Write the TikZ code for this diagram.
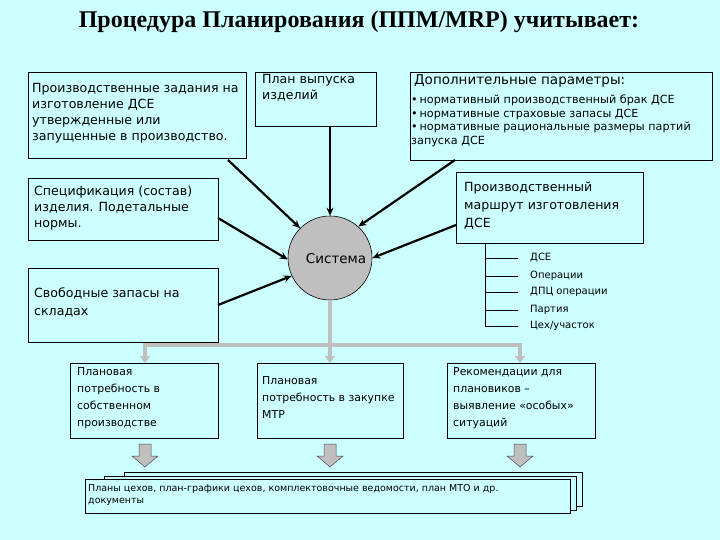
\documentclass[tikz,border=0pt]{standalone}
\usepackage{fontspec}
\setmainfont{DejaVu Sans}
\newfontfamily\titlefont{Liberation Serif}
\usetikzlibrary{arrows.meta}
\definecolor{bg}{HTML}{CCFFFF}
\definecolor{gr}{HTML}{BFBFBF}
\begin{document}
\begin{tikzpicture}[x=1pt,y=-1pt,
 bx/.style={draw=black,fill=bg,line width=0.6pt},
 tx/.style={anchor=north west,align=left,font=\fontsize{12.6}{16}\selectfont,inner sep=0pt},
 sm/.style={anchor=north west,align=left,font=\fontsize{11.2}{13.5}\selectfont,inner sep=0pt},
 ar/.style={-{Stealth[length=8pt,width=7pt]},line width=2.2pt},
 ga/.style={-{Triangle[length=7pt,width=10pt]},draw=gr,line width=3.5pt},
 blk/.style={draw=black!70,fill=gr,line width=0.5pt}]
\fill[bg] (0,0) rectangle (720,540);
\useasboundingbox (0,0) rectangle (720,540);
\node[font=\titlefont\bfseries\fontsize{24}{26}\selectfont] (title) at (359,22) {Процедура Планирования (ППМ/MRP) учитывает:};
\draw[bx] (28,72) rectangle (246,158); \coordinate (b1) at (228,160);
\node[tx] (t1) at (32,83) {Производственные задания на\\изготовление ДСЕ\\утвержденные или\\запущенные в производство.};
\draw[bx] (255,72) rectangle (376,126); \coordinate (b2) at (330,126);
\node[tx] (t2) at (262,74) {План выпуска\\изделий};
\draw[bx] (410,72) rectangle (712,160); \coordinate (b3) at (455,160);
\node[tx,font=\fontsize{13.5}{15}\selectfont] (t3) at (414,74) {Дополнительные параметры:};
\node[sm] (t3b) at (411,95) {\textbullet\,нормативный производственный брак ДСЕ\\\textbullet\,нормативные страховые запасы ДСЕ\\\textbullet\,нормативные рациональные размеры партий\\запуска ДСЕ};
\draw[bx] (28,178) rectangle (218,240); \coordinate (b4) at (218,218);
\node[tx] (t4) at (34,186) {Спецификация (состав)\\изделия. Подетальные\\нормы.};
\draw[bx] (456,172) rectangle (643,243); \coordinate (b5) at (456,225);
\node[tx,font=\fontsize{12.6}{18}\selectfont] (t5) at (464,182) {Производственный\\маршрут изготовления\\ДСЕ};
\draw[bx] (28,268) rectangle (218,342); \coordinate (b6) at (218,305);
\node[tx,font=\fontsize{12.6}{18}\selectfont] (t6) at (34,288) {Свободные запасы на\\складах};
\node[circle,draw=black,fill=gr,minimum size=84pt,inner sep=0pt,line width=0.6pt] (sys) at (330,258) {};
\node[font=\fontsize{13.5}{14}\selectfont] (syst) at (336,259) {Система};
\draw[ar] (b1) -- (sys.135);
\draw[ar] (b2) -- (sys.north);
\draw[ar] (b3) -- (sys.48);
\draw[ar] (b4) -- (sys.182);
\draw[ar] (b5) -- (sys.0);
\draw[ar] (b6) -- (sys.205);
% list
\coordinate (lv1) at (485,243); \coordinate (lv2) at (485,326);
\draw (lv1) -- (lv2);
\foreach \y/\t in {258/{ДСЕ},276/{Операции},292/{ДПЦ операции},310/{Партия},326/{Цех/участок}}{
 \draw (485,\y) -- (518,\y);
 \node[anchor=west,font=\fontsize{10}{11}\selectfont,inner sep=0pt] at (530,\y) {\t};}
% gray distribution
\coordinate (j) at (330,345); \coordinate (jl) at (145,345); \coordinate (jr) at (520,345);
\draw[draw=gr,line width=3.5pt] (sys.south) -- (j);
\draw[draw=gr,line width=3.5pt] (143.25,345) -- (521.75,345);
\draw[ga] (jl) -- (145,363);
\draw[ga] (j) -- (330,363);
\draw[ga] (jr) -- (520,363);
\draw[bx] (70,363) rectangle (218,438);
\node[tx,font=\fontsize{10.9}{17}\selectfont] (r1) at (77,367) {Плановая\\потребность в\\собственном\\производстве};
\draw[bx] (257,363) rectangle (403,438);
\node[tx,font=\fontsize{10.9}{17}\selectfont] (r2) at (262,376) {Плановая\\потребность в закупке\\МТР};
\draw[bx] (447,363) rectangle (595,438);
\node[tx,font=\fontsize{10.9}{17}\selectfont] (r3) at (453,367) {Рекомендации для\\плановиков --\\выявление «особых»\\ситуаций};
\foreach \x in {145,330,520}{
 \draw[blk] (\x-6,444) -- (\x+6,444) -- (\x+6,456) -- (\x+13,456) -- (\x,467) -- (\x-13,456) -- (\x-6,456) -- cycle;}
\draw[bx] (124,472) rectangle (582,506);
\draw[bx] (104,476) rectangle (576,510);
\draw[bx] (85,479) rectangle (570,513);
\node[tx,font=\fontsize{9.5}{12}\selectfont] (d) at (88,484) {Планы цехов, план-графики цехов, комплектовочные ведомости, план МТО и др.\\документы};
\end{tikzpicture}
\end{document}
